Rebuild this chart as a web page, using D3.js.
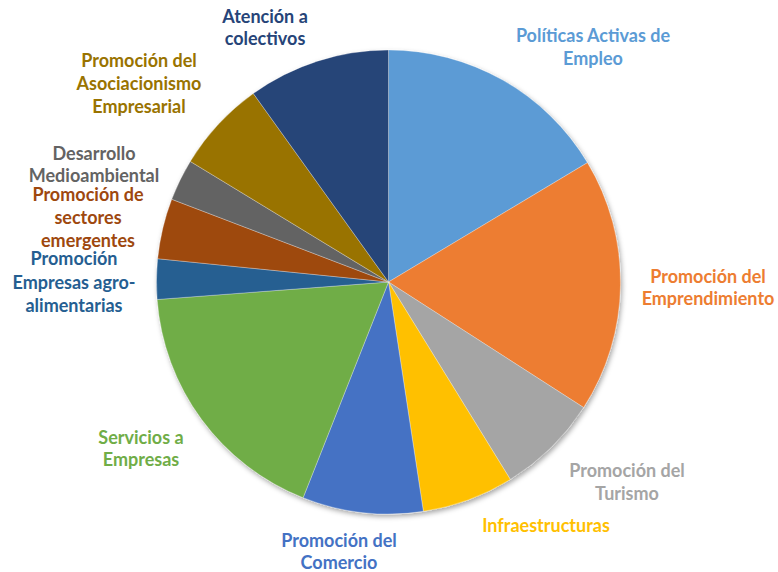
<!DOCTYPE html>
<html>
<head>
<meta charset="utf-8">
<script src="https://cdn.jsdelivr.net/npm/d3@7"></script>
<style>
  html, body { margin: 0; padding: 0; background: #ffffff; }
  svg { display: block; }
  text { font-family: Lato, "Open Sans", sans-serif; font-weight: 700; font-size: 18px; }
</style>
</head>
<body>
<svg id="chart" width="778" height="572"></svg>
<script>
const categories = [
  "Políticas Activas de Empleo",
  "Promoción del Emprendimiento",
  "Promoción del Turismo",
  "Infraestructuras",
  "Promoción del Comercio",
  "Servicios a Empresas",
  "Promoción Empresas agro-alimentarias",
  "Promoción de sectores emergentes",
  "Desarrollo Medioambiental",
  "Promoción del Asociacionismo Empresarial",
  "Atención a colectivos"
];
const values = [16.4, 17.7, 7.1, 6.4, 8.4, 17.8, 2.8, 4.2, 2.9, 6.4, 9.9];
const labelLines = [
  ["Políticas Activas de", "Empleo"],
  ["Promoción del", "Emprendimiento"],
  ["Promoción del", "Turismo"],
  ["Infraestructuras"],
  ["Promoción del", "Comercio"],
  ["Servicios a", "Empresas"],
  ["Promoción", "Empresas agro-", "alimentarias"],
  ["Promoción de", "sectores", "emergentes"],
  ["Desarrollo", "Medioambiental"],
  ["Promoción del", "Asociacionismo", "Empresarial"],
  ["Atención a", "colectivos"]
];
const colors = ["#5B9BD5", "#ED7D31", "#A5A5A5", "#FFC000", "#4472C4", "#70AD47",
                "#255E91", "#9E480E", "#636363", "#997300", "#264478"];
// label anchor (center of first line) positions
const labelPos = [
  [593, 35], [708, 276], [627, 470], [546, 525], [339, 540], [141, 437],
  [74, 258], [88, 194], [94, 153], [139, 60], [265, 16]
];
const lineH = [23, 22, 23, 0, 22, 22, 23.5, 23, 22, 23, 22];

const svg = d3.select("#chart");
const cx = 388.5, cy = 282, r = 232;

const defs = svg.append("defs");
const f = defs.append("filter").attr("id", "shadow")
  .attr("x", "-10%").attr("y", "-10%").attr("width", "125%").attr("height", "125%");
f.append("feDropShadow").attr("dx", 1.5).attr("dy", 2.5).attr("stdDeviation", 2.5)
  .attr("flood-color", "#000").attr("flood-opacity", 0.35);

const pie = d3.pie().sort(null).value(d => d)(values);
const arc = d3.arc().innerRadius(0).outerRadius(r);

const g = svg.append("g").attr("transform", `translate(${cx},${cy})`);
const gs = g.append("g").attr("filter", "url(#shadow)");
gs.selectAll("path").data(pie).join("path")
  .attr("d", arc)
  .attr("fill", (d, i) => colors[i])
  .attr("stroke", "#ffffff")
  .attr("stroke-width", 0.6)
  .attr("stroke-opacity", 0.5);

const lg = svg.append("g");
categories.forEach((c, i) => {
  const t = lg.append("text")
    .attr("text-anchor", "middle")
    .attr("dominant-baseline", "central")
    .attr("fill", colors[i]);
  labelLines[i].forEach((ln, j) => {
    t.append("tspan")
      .attr("x", labelPos[i][0])
      .attr("y", labelPos[i][1] + j * lineH[i])
      .text(ln);
  });
});
</script>
</body>
</html>
